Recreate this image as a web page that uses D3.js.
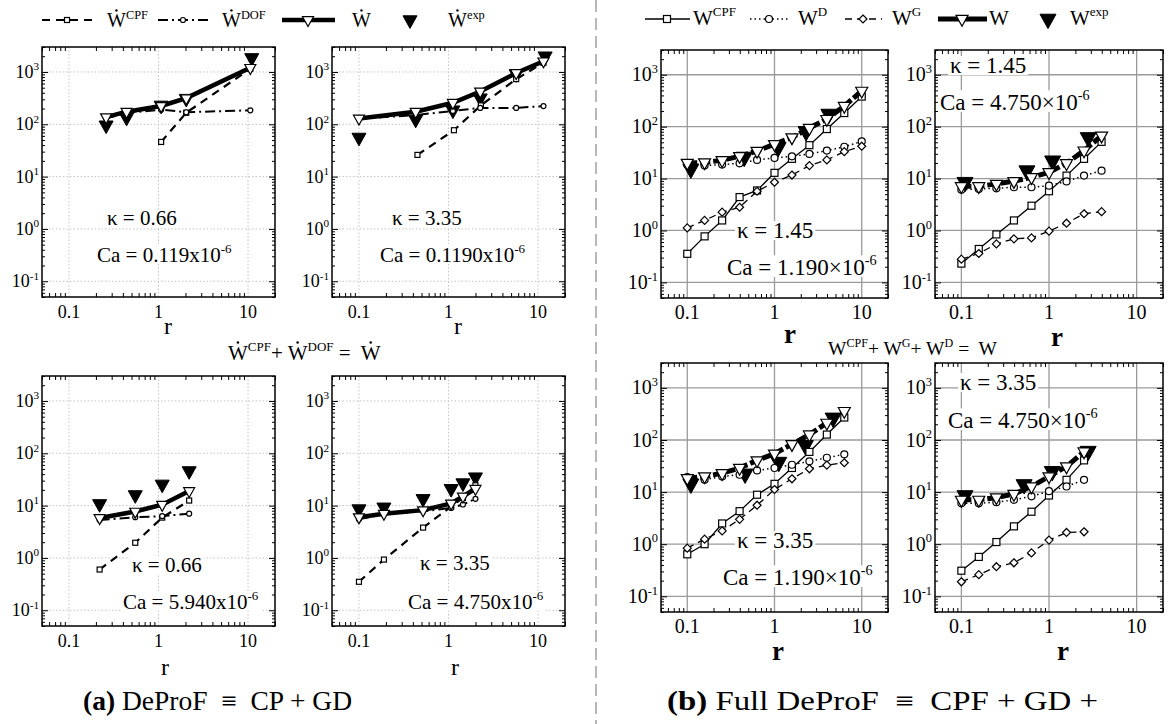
<!DOCTYPE html>
<html><head><meta charset="utf-8">
<script src="https://cdn.jsdelivr.net/npm/d3@7"></script>
<style>
body{margin:0;background:#fff}
svg text{font-family:"Liberation Serif","DejaVu Serif","Times New Roman",serif;white-space:pre}
</style></head><body>
<svg width="1169" height="724" font-family="Liberation Serif, DejaVu Serif, serif"></svg>
<script>
// ---------- data ----------
// (a) DeProF, top-left: kappa 0.66, Ca 0.119e-6
var a1_r = [0.26, 0.44, 1.07, 2.04, 10.6];
var a1_W = [137, 174, 224, 316, 1200];
var a1_dof = [130, 165, 190, 170, 185];
var a1_cpf_r = [1.07, 2.04, 10.6];
var a1_cpf = [46, 166, 1150];
var a1_exp_r = [0.26, 0.44, 1.07, 2.04, 11];
var a1_exp = [96, 135, 230, 310, 1860];
// (a) top-right: kappa 3.35, Ca 0.1190e-6
var a2_r = [0.1, 0.43, 1.12, 2.26, 5.7, 11.5];
var a2_W = [129, 174, 258, 424, 955, 1600];
var a2_dof = [128, 150, 180, 205, 205, 223];
var a2_cpf_r = [0.45, 1.15, 2.3, 5.7, 11.5];
var a2_cpf = [26, 77, 230, 730, 1500];
var a2_exp_r = [0.1, 0.43, 1.12, 2.26, 5.7, 12];
var a2_exp = [56, 124, 186, 316, 920, 2000];
// (a) bottom-left: kappa 0.66, Ca 5.940e-6
var a3_r = [0.22, 0.55, 1.1, 2.2];
var a3_W = [5.8, 7.7, 10.4, 19];
var a3_dof = [5.3, 6.0, 6.3, 7.0];
var a3_cpf = [0.6, 1.95, 5.9, 12.5];
var a3_exp = [10.8, 16, 25.5, 46];
// (a) bottom-right: kappa 3.35, Ca 4.750e-6
var a4_r = [0.1, 0.19, 0.52, 1.07, 1.45, 2.0];
var a4_W = [6.0, 7.0, 8.2, 11, 15, 21];
var a4_dof = [5.5, 6.9, 7.8, 9.0, 10.5, 13.5];
var a4_cpf = [0.35, 0.93, 3.8, 9.6, 14, 24.5];
var a4_exp = [8.6, 9.3, 13.5, 21, 27, 35];

// (b) Full DeProF, shared r grid
var rB = [0.1, 0.158, 0.251, 0.398, 0.631, 1, 1.585, 2.512, 3.981, 6.31, 10];
// top-left: kappa 1.45, Ca 1.190e-6
var b1_cpf = [0.355, 0.77, 1.56, 4.4, 5.9, 12.9, 24, 44, 90, 183, 380];
var b1_D = [18.4, 17.8, 18.6, 19.7, 22.9, 25, 26.8, 29.8, 34.6, 41, 52];
var b1_G = [1.12, 1.56, 2.25, 2.8, 5.7, 8.5, 11.7, 17.8, 22.9, 33, 42];
var b1_W = [20, 20.5, 22.5, 27, 34, 46, 62, 94, 140, 250, 490];
var b1_exp_r = [0.11, 0.45, 1.1, 2.3, 4.2];
var b1_exp = [15.4, 26, 40, 81, 175];
// top-right: kappa 1.45, Ca 4.750e-6
var b2_cpf = [0.23, 0.44, 0.84, 1.56, 3.0, 5.7, 11.4, 24, 51];
var b2_D = [6.1, 6.3, 6.5, 6.8, 6.8, 7.3, 8.8, 11.4, 14.2];
var b2_G = [0.28, 0.36, 0.55, 0.69, 0.72, 0.97, 1.38, 2.1, 2.3];
var b2_W = [7.1, 7.1, 7.9, 8.9, 10.6, 13.2, 19.7, 34.6, 67];
var b2_exp_r = [0.11, 0.56, 1.1, 2.8];
var b2_exp = [8.5, 14.2, 22, 62];
// bottom-left: kappa 3.35, Ca 1.190e-6
var b3_cpf = [0.64, 1.0, 2.5, 4.3, 8.9, 14.4, 29, 59, 127, 270];
var b3_D = [19.4, 17.2, 20, 21.5, 26, 29, 33.5, 39, 45.6, 53];
var b3_G = [0.84, 1.25, 1.8, 3.0, 5.6, 11.2, 18, 28, 33, 36.6];
var b3_W = [18.5, 20, 23, 29, 40.6, 54.6, 83, 127, 213, 358];
var b3_exp_r = [0.11, 0.46, 1.12, 2.26, 4.7];
var b3_exp = [14.4, 22.4, 37.6, 79, 265];
// bottom-right: kappa 3.35, Ca 4.750e-6
var b4_cpf = [0.31, 0.57, 1.1, 2.2, 4.2, 8.6, 17.2, 40.6];
var b4_D = [6.1, 6.1, 6.4, 7.1, 8.3, 10.4, 12.8, 17.2];
var b4_G = [0.19, 0.26, 0.37, 0.44, 0.68, 1.2, 1.68, 1.73];
var b4_W = [7.1, 7.1, 7.9, 9.2, 12.8, 20, 31, 60];
var b4_exp_r = [0.11, 0.52, 1.09, 2.8];
var b4_exp = [8.6, 14, 25, 61];

var xTickVals = [0.1, 1, 10];
var xTickLabels = ["0.1", "1", "10"];
var yTickVals = [0.1, 1, 10, 100, 1000];
var yTickExps = ["-1", "0", "1", "2", "3"];

var svg = d3.select("svg");

// text with superscripts and optional dots above characters
function rich(g, x, y, parts, size, opt) {
  opt = opt || {};
  var t = g.append("text").attr("x", x).attr("y", y).attr("font-size", size)
    .attr("xml:space", "preserve")
    .attr("text-anchor", opt.anchor || "start")
    .attr("font-weight", opt.bold ? "bold" : null);
  if (opt.len) t.attr("textLength", opt.len).attr("lengthAdjust", "spacingAndGlyphs");
  var cur = 0, idx = 0, dots = [];
  parts.forEach(function(p) {
    var target = p.sup ? -size * 0.42 : 0;
    var s = t.append("tspan").text(p.t).attr("dy", target - cur);
    if (p.sup) s.attr("font-size", size * 0.62);
    if (p.b) s.attr("font-weight", "bold");
    if (p.dot) dots.push(idx);
    cur = target;
    idx += p.t.length;
  });
  var n = t.node().getNumberOfChars();
  dots.forEach(function(i) {
    if (i >= n) return;
    var e = t.node().getExtentOfChar(i);
    g.append("circle").attr("cx", e.x + e.width / 2).attr("cy", y - size * 0.83)
      .attr("r", size * 0.06).attr("fill", "#000");
  });
  return t;
}

function marker(g, type, cx, cy, s) {
  var p;
  if (type === "sq") {
    p = g.append("rect").attr("x", cx - s / 2).attr("y", cy - s / 2).attr("width", s).attr("height", s);
  } else if (type === "ci") {
    p = g.append("circle").attr("cx", cx).attr("cy", cy).attr("r", s / 2);
  } else if (type === "di") {
    p = g.append("path").attr("d", "M" + cx + "," + (cy - s / 2) + "L" + (cx + s / 2) + "," + cy + "L" + cx + "," + (cy + s / 2) + "L" + (cx - s / 2) + "," + cy + "Z");
  } else {
    var h = s * 0.9;
    p = g.append("path").attr("d", "M" + (cx - s / 2) + "," + (cy - h / 3) + "L" + (cx + s / 2) + "," + (cy - h / 3) + "L" + cx + "," + (cy + 2 * h / 3) + "Z");
  }
  if (type === "tf") p.attr("fill", "#000").attr("stroke", "#000").attr("stroke-width", 1);
  else p.attr("fill", "#fff").attr("stroke", "#000").attr("stroke-width", 1.2);
  return p;
}

function series(g, x, y, rs, vs, st) {
  var pts = d3.zip(rs, vs);
  if (st.w) {
    g.append("path").datum(pts)
      .attr("d", d3.line().x(function(d) { return x(d[0]); }).y(function(d) { return y(d[1]); }))
      .attr("fill", "none").attr("stroke", "#000").attr("stroke-width", st.w)
      .attr("stroke-dasharray", st.dash || null);
  }
  pts.forEach(function(d) { marker(g, st.m, x(d[0]), y(d[1]), st.s); });
}

function panel(cfg) {
  var g = svg.append("g");
  var x = d3.scaleLog().domain([0.05, 20]).range([cfg.x0, cfg.x0 + cfg.w]);
  var y = d3.scaleLog().domain([0.05, 3000]).range([cfg.y0 + cfg.h, cfg.y0]);
  var b = cfg.style === "b";

  // grid
  var grid = g.append("g").attr("stroke", b ? "#9a9a9a" : "#c4c4c4")
    .attr("stroke-width", b ? 1.3 : 1).attr("stroke-dasharray", b ? null : "1.5,2");
  xTickVals.forEach(function(v) {
    grid.append("line").attr("x1", x(v)).attr("x2", x(v)).attr("y1", cfg.y0).attr("y2", cfg.y0 + cfg.h);
  });
  yTickVals.forEach(function(v) {
    grid.append("line").attr("y1", y(v)).attr("y2", y(v)).attr("x1", cfg.x0).attr("x2", cfg.x0 + cfg.w);
  });

  // ticks through d3 axes, pointing inwards
  var xMinor = x.ticks().filter(function(v) { return xTickVals.indexOf(v) < 0; });
  var yMinor = y.ticks().filter(function(v) { return yTickVals.indexOf(v) < 0; });
  function ax(axis, tx, ty) {
    var a = g.append("g").attr("transform", "translate(" + tx + "," + ty + ")").call(axis);
    a.select(".domain").remove();
    a.selectAll("line").attr("stroke", "#000").attr("stroke-width", 1);
  }
  ax(d3.axisBottom(x).tickValues(xMinor).tickSize(-4).tickFormat(""), 0, cfg.y0 + cfg.h);
  ax(d3.axisTop(x).tickValues(xMinor).tickSize(-4).tickFormat(""), 0, cfg.y0);
  ax(d3.axisLeft(y).tickValues(yMinor).tickSize(-3).tickFormat(""), cfg.x0, 0);
  ax(d3.axisRight(y).tickValues(yMinor).tickSize(-3).tickFormat(""), cfg.x0 + cfg.w, 0);
  ax(d3.axisLeft(y).tickValues(yTickVals).tickSize(-6).tickFormat(""), cfg.x0, 0);
  ax(d3.axisRight(y).tickValues(yTickVals).tickSize(-6).tickFormat(""), cfg.x0 + cfg.w, 0);

  g.append("rect").attr("x", cfg.x0).attr("y", cfg.y0).attr("width", cfg.w).attr("height", cfg.h)
    .attr("fill", "none").attr("stroke", "#000").attr("stroke-width", 1.5);

  // tick labels
  var fs = b ? 20 : 18;
  xTickVals.forEach(function(v, i) {
    g.append("text").attr("x", x(v)).attr("y", cfg.y0 + cfg.h + 21).attr("font-size", fs)
      .attr("text-anchor", "middle").text(xTickLabels[i]);
  });
  yTickVals.forEach(function(v, i) {
    rich(g, cfg.x0 - 3, y(v) + fs * 0.33, [{t: "10"}, {t: yTickExps[i], sup: true}], fs, {anchor: "end"});
  });
  g.append("text").attr("x", cfg.rx).attr("y", cfg.ry).attr("font-size", b ? 27 : 24)
    .attr("font-weight", b ? "bold" : null).attr("text-anchor", "middle").text("r");

  // annotations with white boxes
  var afs = b ? 23 : 21;
  [[cfg.kx, cfg.ky, [{t: "\u03ba = " + cfg.kappa}]],
   [cfg.cx, cfg.cy, [{t: "Ca = " + cfg.ca + (b ? "\u00d710" : "x10")}, {t: "-6", sup: true}]]]
    .forEach(function(a) {
      var t = rich(g, a[0], a[1], a[2], afs);
      var bb = t.node().getBBox();
      g.insert("rect", function() { return t.node(); })
        .attr("x", bb.x - 2).attr("y", bb.y + 3).attr("width", bb.width + 4).attr("height", bb.height - 6)
        .attr("fill", "#fff");
    });

  var d = g.append("g");
  cfg.series.forEach(function(s) { series(d, x, y, s[0], s[1], s[2]); });
}

// line styles
var A = {
  cpf: {w: 2.2, dash: "8,6", m: "sq", s: 5},
  dof: {w: 2, dash: "10,4,2,4", m: "ci", s: 5},
  W: {w: 4.5, m: "to", s: 11},
  exp: {m: "tf", s: 14}
};
var B = {
  cpf: {w: 1.3, m: "sq", s: 7},
  D: {w: 1.5, dash: "1.5,3", m: "ci", s: 7},
  G: {w: 1.3, dash: "7,5", m: "di", s: 8},
  W: {w: 5, dash: "10,3", m: "to", s: 12},
  exp: {m: "tf", s: 16}
};

var panels = [
  {style: "a", x0: 42, y0: 47, w: 233, h: 250, rx: 168, ry: 334, kappa: "0.66", ca: "0.119",
   kx: 107, ky: 225, cx: 97, cy: 262,
   series: [[a1_exp_r, a1_exp, A.exp], [a1_cpf_r, a1_cpf, A.cpf], [a1_r, a1_dof, A.dof], [a1_r, a1_W, A.W]]},
  {style: "a", x0: 332, y0: 47, w: 233, h: 250, rx: 458, ry: 334, kappa: "3.35", ca: "0.1190",
   kx: 392, ky: 225, cx: 380, cy: 262,
   series: [[a2_exp_r, a2_exp, A.exp], [a2_cpf_r, a2_cpf, A.cpf], [a2_r, a2_dof, A.dof], [a2_r, a2_W, A.W]]},
  {style: "a", x0: 42, y0: 376, w: 233, h: 250, rx: 165, ry: 675, kappa: "0.66", ca: "5.940",
   kx: 132, ky: 572, cx: 123, cy: 609,
   series: [[a3_r, a3_exp, A.exp], [a3_r, a3_cpf, A.cpf], [a3_r, a3_dof, A.dof], [a3_r, a3_W, A.W]]},
  {style: "a", x0: 332, y0: 376, w: 233, h: 250, rx: 455, ry: 675, kappa: "3.35", ca: "4.750",
   kx: 420, ky: 570, cx: 408, cy: 609,
   series: [[a4_r, a4_exp, A.exp], [a4_r, a4_cpf, A.cpf], [a4_r, a4_dof, A.dof], [a4_r, a4_W, A.W]]},
  {style: "b", x0: 661, y0: 50, w: 227, h: 248, rx: 790, ry: 343, kappa: "1.45", ca: "1.190",
   kx: 737, ky: 238, cx: 727, cy: 275,
   series: [[b1_exp_r, b1_exp, B.exp], [rB, b1_cpf, B.cpf], [rB, b1_D, B.D], [rB, b1_G, B.G], [rB, b1_W, B.W]]},
  {style: "b", x0: 935, y0: 50, w: 228, h: 248, rx: 1057, ry: 346, kappa: "1.45", ca: "4.750",
   kx: 950, ky: 73, cx: 940, cy: 110,
   series: [[b2_exp_r, b2_exp, B.exp], [rB.slice(0, 9), b2_cpf, B.cpf], [rB.slice(0, 9), b2_D, B.D], [rB.slice(0, 9), b2_G, B.G], [rB.slice(0, 9), b2_W, B.W]]},
  {style: "b", x0: 661, y0: 363, w: 227, h: 249, rx: 778, ry: 660, kappa: "3.35", ca: "1.190",
   kx: 737, ky: 548, cx: 723, cy: 585,
   series: [[b3_exp_r, b3_exp, B.exp], [rB.slice(0, 10), b3_cpf, B.cpf], [rB.slice(0, 10), b3_D, B.D], [rB.slice(0, 10), b3_G, B.G], [rB.slice(0, 10), b3_W, B.W]]},
  {style: "b", x0: 935, y0: 363, w: 228, h: 249, rx: 1063, ry: 660, kappa: "3.35", ca: "4.750",
   kx: 960, ky: 390, cx: 948, cy: 428,
   series: [[b4_exp_r, b4_exp, B.exp], [rB.slice(0, 8), b4_cpf, B.cpf], [rB.slice(0, 8), b4_D, B.D], [rB.slice(0, 8), b4_G, B.G], [rB.slice(0, 8), b4_W, B.W]]}
];
panels.forEach(panel);

// divider
svg.append("line").attr("x1", 596).attr("x2", 596).attr("y1", 0).attr("y2", 724)
  .attr("stroke", "#a0a0a0").attr("stroke-width", 1.5).attr("stroke-dasharray", "12,6");

// legends
var leg = svg.append("g");
function legLine(x1, x2, yy, st, mx) {
  if (st.w) leg.append("line").attr("x1", x1).attr("x2", x2).attr("y1", yy).attr("y2", yy)
    .attr("stroke", "#000").attr("stroke-width", st.w).attr("stroke-dasharray", st.dash || null);
  marker(leg, st.m, mx, yy, st.s);
}
legLine(42, 92, 20, A.cpf, 67);
rich(leg, 107, 27, [{t: "W", dot: true}, {t: "CPF", sup: true}], 20);
legLine(158, 208, 20, A.dof, 183);
rich(leg, 222, 27, [{t: "W", dot: true}, {t: "DOF", sup: true}], 20);
legLine(282, 335, 20, A.W, 308);
rich(leg, 352, 27, [{t: "W", dot: true}], 20);
legLine(0, 0, 20, A.exp, 410);
rich(leg, 448, 27, [{t: "W", dot: true}, {t: "exp", sup: true}], 20);

legLine(645, 690, 19, {w: 1.3, m: "sq", s: 7}, 667);
rich(leg, 693, 25, [{t: "W"}, {t: "CPF", sup: true}], 21);
legLine(750, 788, 19, B.D, 769);
rich(leg, 798, 25, [{t: "W"}, {t: "D", sup: true}], 21);
legLine(845, 882, 19, B.G, 863);
rich(leg, 892, 25, [{t: "W"}, {t: "G", sup: true}], 21);
legLine(938, 987, 19, {w: 5, m: "to", s: 12}, 962);
rich(leg, 989, 25, [{t: "W"}], 21);
legLine(0, 0, 19, B.exp, 1048);
rich(leg, 1070, 25, [{t: "W"}, {t: "exp", sup: true}], 21);

// middle equations
rich(svg, 228, 360, [{t: "W", dot: true}, {t: "CPF", sup: true}, {t: "+ "}, {t: "W", dot: true},
  {t: "DOF", sup: true}, {t: " =  "}, {t: "W", dot: true}], 21);
rich(svg, 828, 355, [{t: "W"}, {t: "CPF", sup: true}, {t: "+ W"}, {t: "G", sup: true},
  {t: "+ W"}, {t: "D", sup: true}, {t: " =  W"}], 19.5);

// captions
rich(svg, 83, 710, [{t: "(a)", b: true}, {t: " DeProF  \u2261  CP + GD"}], 27, {len: 269});
rich(svg, 667, 710, [{t: "(b)", b: true}, {t: " Full DeProF  \u2261  CPF + GD +"}], 27, {len: 431});
</script>
</body></html>
